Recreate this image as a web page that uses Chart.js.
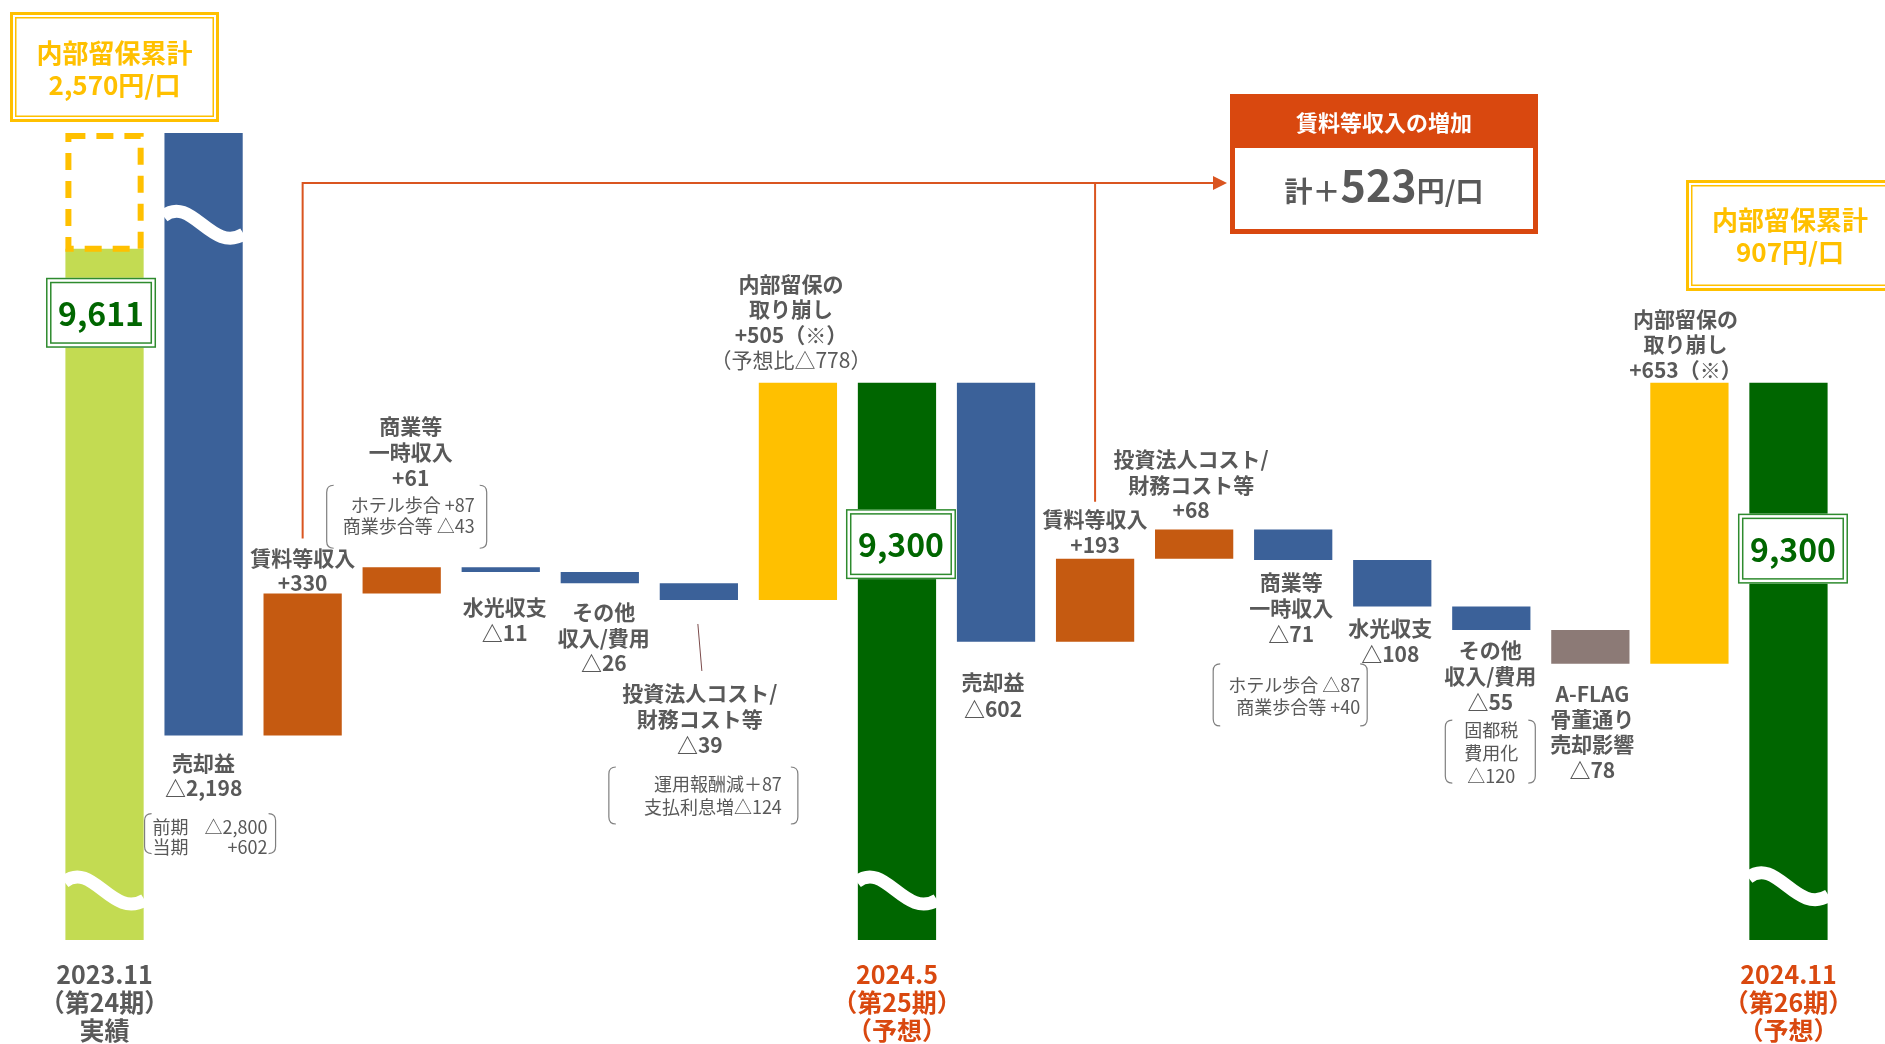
<!DOCTYPE html>
<html lang="ja">
<head>
<meta charset="utf-8">
<title>分配金の推移</title>
<script src="https://cdn.jsdelivr.net/npm/chart.js@4.4.1/dist/chart.umd.min.js"></script>
<style>
  html, body { margin: 0; padding: 0; background: #fff; }
  canvas { display: block; }
</style>
</head>
<body>
<canvas id="chart" width="1885" height="1044"></canvas>
<script>
// 1口当たり分配金の増減要因（円/口）
const categories = ['2023.11', '売却益', '賃料等収入', '商業等一時収入', '水光収支', 'その他収入/費用',
  '投資法人コスト/財務コスト等', '内部留保の取り崩し', '2024.5', '売却益', '賃料等収入',
  '投資法人コスト/財務コスト等', '商業等一時収入', '水光収支', 'その他収入/費用',
  'A-FLAG骨董通り売却影響', '内部留保の取り崩し', '2024.11'];
const barKinds = ['total', 'delta', 'delta', 'delta', 'delta', 'delta', 'delta', 'delta', 'total',
  'delta', 'delta', 'delta', 'delta', 'delta', 'delta', 'delta', 'delta', 'total'];
const amounts = [9611, -2198, 330, 61, -11, -26, -39, 505, 9300, -602, 193, 68, -71, -108, -55, -78, 653, 9300];
const retained2311 = 1067;          // 第24期の内部留保（破線枠）
const retainedTotals = [2570, 907]; // 内部留保累計
const forecastDiff = -778;          // 予想比
const gainDetail = [-2800, 602];            // 前期 / 当期
const commercialDetail25 = [87, -43];       // ホテル歩合 / 商業歩合等
const costDetail25 = [87, -124];            // 運用報酬減 / 支払利息増
const commercialDetail26 = [-87, 40];       // ホテル歩合 / 商業歩合等
const propertyTaxDetail = [-120];           // 固都税費用化
const periodTicks = [['2023.11', '（第24期）', '実績'], '', '', '', '', '', '', '',
  ['2024.5', '（第25期）', '（予想）'], '', '', '', '', '', '', '', '',
  ['2024.11', '（第26期）', '（予想）']];

const Y_MIN = 8005, Y_MAX = 9880;
const FONT = '"Noto Sans CJK JP", "Noto Sans", sans-serif';
const GRAY = '#595959';
const RED = '#D9480F';

const C = { base: '#C3DB52', down: '#3B6199', up: '#C55A11', reserve: '#FFC000', total: '#006600', aflag: '#8C7A76' };
const barColors = [C.base, C.down, C.up, C.up, C.down, C.down, C.down, C.reserve, C.total,
  C.down, C.up, C.up, C.down, C.down, C.down, C.aflag, C.reserve, C.total];

const fmt = v => (v < 0 ? '△' : '+') + Math.abs(v).toLocaleString('en-US');
const fmtWide = v => (v < 0 ? '△' : '＋') + Math.abs(v).toLocaleString('en-US');

// 滝グラフの区間を積み上げ
const ranges = [];
let level = 0;
amounts.forEach((v, i) => {
  if (barKinds[i] === 'total') {
    ranges.push([Y_MIN, v]);
    level = v + (i === 0 ? retained2311 : 0);
  } else {
    ranges.push([level, level + v]);
    level += v;
  }
});
const rentIncrease = amounts[2] + amounts[10];

// ラベル配置（棒の上端/下端からのオフセット）
const labelLayout = {
  1: { edge: 'bottom', dx: 0, dy: 27, lh: 25, lines: ['売却益', '{v}'] },
  2: { edge: 'top', dx: 0, dy: -36, lh: 25, lines: ['賃料等収入', '{v}'] },
  3: { edge: 'top', dx: 9, dy: -141, lh: 26, lines: ['商業等', '一時収入', '{v}'] },
  4: { edge: 'bottom', dx: 4, dy: 35, lh: 26, lines: ['水光収支', '{v}'] },
  5: { edge: 'bottom', dx: 4, dy: 29, lh: 25.5, lines: ['その他', '収入/費用', '{v}'] },
  6: { edge: 'bottom', dx: 1, dy: 93, lh: 26, lines: ['投資法人コスト/', '財務コスト等', '{v}'] },
  7: { edge: 'top', dx: -7, dy: -99, lh: 25.5, lines: ['内部留保の', '取り崩し', '{v}（※）', { t: '（予想比' + fmt(forecastDiff) + '）', w: 'normal' }] },
  9: { edge: 'bottom', dx: -3, dy: 40, lh: 27, lines: ['売却益', '{v}'] },
  10: { edge: 'top', dx: 0, dy: -40, lh: 26, lines: ['賃料等収入', '{v}'] },
  11: { edge: 'top', dx: -3, dy: -70, lh: 25.5, lines: ['投資法人コスト/', '財務コスト等', '{v}'] },
  12: { edge: 'bottom', dx: -2, dy: 22, lh: 26, lines: ['商業等', '一時収入', '{v}'] },
  13: { edge: 'bottom', dx: -2, dy: 22, lh: 26, lines: ['水光収支', '{v}'] },
  14: { edge: 'bottom', dx: -1, dy: 20, lh: 26, lines: ['その他', '収入/費用', '{v}'] },
  15: { edge: 'bottom', dx: 2, dy: 30, lh: 25.3, lines: ['A-FLAG', '骨董通り', '売却影響', '{v}'] },
  16: { edge: 'top', dx: -4, dy: -64, lh: 25.5, lines: ['内部留保の', '取り崩し', '{v}（※）'] }
};

// 括弧付きの内訳（mode: split=項目左寄せ・数値右寄せ / right=行ごと右寄せ / center）
const noteLayout = {
  1: { edge: 'bottom', top: 78, h: 40, x0: -59, x1: 72, rowY: 92, lh: 20, tl: -51, tr: 64, mode: 'split',
       rows: [['前期', fmt(gainDetail[0])], ['当期', fmt(gainDetail[1])]] },
  3: { edge: 'top', top: -82, h: 63, x0: -75, x1: 85, rowY: -62, lh: 21, tr: 73, mode: 'right',
       rows: ['ホテル歩合 ' + fmt(commercialDetail25[0]), '商業歩合等 ' + fmt(commercialDetail25[1])] },
  6: { edge: 'bottom', top: 167, h: 57, x0: -90, x1: 99, rowY: 184, lh: 23, tr: 83, mode: 'right',
       rows: ['運用報酬減' + fmtWide(costDetail25[0]), '支払利息増' + fmtWide(costDetail25[1])] },
  12: { edge: 'bottom', top: 104, h: 62, x0: -80, x1: 74, rowY: 125, lh: 22, tr: 67, mode: 'right',
       rows: ['ホテル歩合 ' + fmt(commercialDetail26[0]), '商業歩合等 ' + fmt(commercialDetail26[1])] },
  14: { edge: 'bottom', top: 90, h: 63, x0: -46, x1: 44, rowY: 100, lh: 23, mode: 'center',
       rows: ['固都税', '費用化', fmt(propertyTaxDetail[0])] }
};

// 合計値の枠（棒の上端からのオフセット）
const totalBoxes = { 0: { dx: -3.5, dy: 64 }, 8: { dx: 4, dy: 161.5 }, 17: { dx: 4.5, dy: 166 } };
// 波線（省略記号）の位置
const breaks = { 0: 8140, 1: 9687, 8: 8140, 17: 8150 };

function edges(el) {
  return { top: Math.min(el.y, el.base), bottom: Math.max(el.y, el.base) };
}

function text(ctx, str, x, y, size, color, weight, align) {
  ctx.font = `${weight || 'bold'} ${size}px ${FONT}`;
  ctx.fillStyle = color;
  ctx.textAlign = align || 'center';
  ctx.textBaseline = 'middle';
  ctx.fillText(str, x, y);
}

function bracket(ctx, x0, y0, x1, y1) {
  const r = 7;
  ctx.save();
  ctx.strokeStyle = '#7F7F7F';
  ctx.lineWidth = 1.2;
  ctx.beginPath();
  ctx.moveTo(x0 + r, y0);
  ctx.quadraticCurveTo(x0, y0, x0, y0 + r);
  ctx.lineTo(x0, y1 - r);
  ctx.quadraticCurveTo(x0, y1, x0 + r, y1);
  ctx.moveTo(x1 - r, y0);
  ctx.quadraticCurveTo(x1, y0, x1, y0 + r);
  ctx.lineTo(x1, y1 - r);
  ctx.quadraticCurveTo(x1, y1, x1 - r, y1);
  ctx.stroke();
  ctx.restore();
}

function doubleFrame(ctx, x, y, w, h, color, outer, inner, gap) {
  ctx.save();
  ctx.strokeStyle = color;
  ctx.lineWidth = outer;
  ctx.strokeRect(x + outer / 2, y + outer / 2, w - outer, h - outer);
  const o = outer + gap + inner / 2;
  ctx.lineWidth = inner;
  ctx.strokeRect(x + o, y + o, w - 2 * o, h - 2 * o);
  ctx.restore();
}

const waterfallDecor = {
  id: 'waterfallDecor',
  afterDatasetsDraw(chart) {
    const { ctx, chartArea } = chart;
    const y = chart.scales.y;
    const bars = chart.getDatasetMeta(0).data;

    // 第24期 内部留保の破線枠
    const b0 = bars[0];
    const left = b0.x - b0.width / 2, right = b0.x + b0.width / 2;
    const top = Math.max(chartArea.top, y.getPixelForValue(amounts[0] + retained2311));
    const bottom = y.getPixelForValue(amounts[0]);
    ctx.save();
    ctx.strokeStyle = C.reserve;
    ctx.lineWidth = 6;
    ctx.setLineDash([17, 11]);
    ctx.strokeRect(left + 3, top + 3, right - left - 6, bottom - top - 3);
    ctx.restore();

    // 波線
    ctx.save();
    ctx.strokeStyle = '#fff';
    ctx.lineWidth = 13;
    Object.entries(breaks).forEach(([i, v]) => {
      const el = bars[i];
      const l = el.x - el.width / 2 - 1, w = el.width + 2;
      const y0 = y.getPixelForValue(v);
      ctx.beginPath();
      ctx.moveTo(l, y0);
      ctx.bezierCurveTo(l + w * 0.35, y0 - 22, l + w * 0.6, y0 + 38, l + w, y0 + 18);
      ctx.stroke();
    });
    ctx.restore();
  },
  afterDraw(chart) {
    const { ctx } = chart;
    const bars = chart.getDatasetMeta(0).data;

    // 要因ラベル
    Object.entries(labelLayout).forEach(([i, cfg]) => {
      const el = bars[i];
      const e = edges(el);
      const base = cfg.edge === 'top' ? e.top : e.bottom;
      cfg.lines.forEach((ln, k) => {
        const t = typeof ln === 'string' ? ln : ln.t;
        const w = typeof ln === 'string' ? 'bold' : ln.w;
        text(ctx, t.replace('{v}', fmt(amounts[i])), el.x + cfg.dx, base + cfg.dy + k * cfg.lh, 21, GRAY, w);
      });
    });

    // 内訳
    Object.entries(noteLayout).forEach(([i, n]) => {
      const el = bars[i];
      const e = edges(el);
      const base = n.edge === 'top' ? e.top : e.bottom;
      bracket(ctx, el.x + n.x0, base + n.top, el.x + n.x1, base + n.top + n.h);
      n.rows.forEach((row, k) => {
        const ry = base + n.rowY + k * n.lh;
        if (n.mode === 'center') {
          text(ctx, row, el.x, ry, 18, GRAY, 'normal');
        } else if (n.mode === 'right') {
          text(ctx, row, el.x + n.tr, ry, 18, GRAY, 'normal', 'right');
        } else {
          text(ctx, row[0], el.x + n.tl, ry, 18, GRAY, 'normal', 'left');
          text(ctx, row[1], el.x + n.tr, ry, 18, GRAY, 'normal', 'right');
        }
      });
    });

    // 投資法人コストの引出線
    const e6 = edges(bars[6]);
    ctx.save();
    ctx.strokeStyle = '#7B4B4B';
    ctx.lineWidth = 1;
    ctx.beginPath();
    ctx.moveTo(bars[6].x - 1, e6.bottom + 24);
    ctx.lineTo(bars[6].x + 3, e6.bottom + 71);
    ctx.stroke();
    ctx.restore();

    // 合計値の枠
    Object.entries(totalBoxes).forEach(([i, b]) => {
      const el = bars[i];
      const cx = el.x + b.dx, cy = edges(el).top + b.dy;
      ctx.fillStyle = '#fff';
      ctx.fillRect(cx - 55, cy - 35, 110, 70);
      doubleFrame(ctx, cx - 55, cy - 35, 110, 70, '#2E8B2E', 1.5, 1.5, 2.5);
      text(ctx, amounts[i].toLocaleString('en-US'), cx, cy + 1, 32, '#006600', 'bold');
    });

    // 賃料等収入の矢印
    const r1 = bars[2], r2 = bars[10];
    const lineY = 183, tipX = 1227;
    ctx.save();
    ctx.strokeStyle = '#DA5520';
    ctx.lineWidth = 2;
    ctx.beginPath();
    ctx.moveTo(r1.x, edges(r1).top - 55);
    ctx.lineTo(r1.x, lineY);
    ctx.lineTo(tipX - 12, lineY);
    ctx.moveTo(r2.x, lineY);
    ctx.lineTo(r2.x, edges(r2).top - 57);
    ctx.stroke();
    ctx.fillStyle = '#DA5520';
    ctx.beginPath();
    ctx.moveTo(tipX, lineY);
    ctx.lineTo(tipX - 14, lineY - 7);
    ctx.lineTo(tipX - 14, lineY + 7);
    ctx.closePath();
    ctx.fill();
    ctx.restore();

    // 賃料等収入の増加 枠
    const bx = 1230, by = 94, bw = 308, bh = 140;
    ctx.fillStyle = RED;
    ctx.fillRect(bx, by, bw, 54);
    ctx.save();
    ctx.strokeStyle = RED;
    ctx.lineWidth = 5;
    ctx.strokeRect(bx + 2.5, by + 2.5, bw - 5, bh - 5);
    ctx.restore();
    text(ctx, '賃料等収入の増加', bx + bw / 2, by + 29, 22, '#fff', 'bold');
    const parts = [['計＋', 28], [String(rentIncrease), 43], ['円/口', 28]];
    let total = 0;
    parts.forEach(p => { ctx.font = `bold ${p[1]}px ${FONT}`; p.push(ctx.measureText(p[0]).width); total += p[2]; });
    let px = bx + bw / 2 - total / 2;
    ctx.fillStyle = GRAY;
    ctx.textAlign = 'left';
    ctx.textBaseline = 'alphabetic';
    parts.forEach(p => {
      ctx.font = `bold ${p[1]}px ${FONT}`;
      ctx.fillText(p[0], px, 202);
      px += p[2];
    });

    // 内部留保累計
    const reserveBoxes = [{ x: 10, y: 12, w: 209, h: 110, cx: 114.5, ly: 53 }, { x: 1686, y: 180, w: 214, h: 111, cx: 1790, ly: 220 }];
    reserveBoxes.forEach((r, k) => {
      doubleFrame(ctx, r.x, r.y, r.w, r.h, C.reserve, 3, 1.5, 2);
      text(ctx, '内部留保累計', r.cx, r.ly, 26, C.reserve, 'bold');
      text(ctx, retainedTotals[k].toLocaleString('en-US') + '円/口', r.cx, r.ly + 32, 26, C.reserve, 'bold');
    });
  }
};

new Chart(document.getElementById('chart'), {
  type: 'bar',
  data: {
    labels: categories,
    datasets: [{
      data: ranges,
      backgroundColor: barColors,
      borderWidth: 0,
      barPercentage: 0.79,
      categoryPercentage: 1,
      clip: 0
    }]
  },
  options: {
    responsive: false,
    animation: false,
    layout: { padding: { left: 55, right: 47, top: 133, bottom: -20 } },
    plugins: { legend: { display: false }, tooltip: { enabled: false } },
    scales: {
      x: {
        grid: { display: false, drawTicks: false },
        border: { display: false },
        ticks: {
          autoSkip: false,
          maxRotation: 0,
          minRotation: 0,
          padding: 20,
          font: { family: FONT, size: 25, weight: 'bold', lineHeight: 1.12 },
          color: ctx => (ctx.index === 0 ? GRAY : RED),
          callback: (value, index) => periodTicks[index]
        }
      },
      y: { display: false, min: Y_MIN, max: Y_MAX }
    }
  },
  plugins: [waterfallDecor]
});
</script>
</body>
</html>
